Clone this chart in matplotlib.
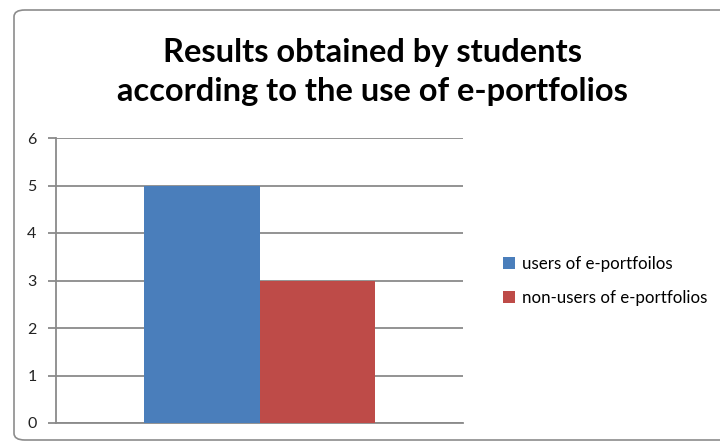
import matplotlib.pyplot as plt
from matplotlib.patches import FancyBboxPatch

# Chart data
categories = ["users of e-portfoilos", "non-users of e-portfolios"]
values = [5, 3]
colors = ["#4A7EBB", "#BE4B48"]
y_ticks = [0, 1, 2, 3, 4, 5, 6]

plt.rcParams['font.family'] = ['Lato', 'DejaVu Sans']

fig = plt.figure(figsize=(7.2, 4.46), dpi=100)
fig.patch.set_facecolor("white")

# rounded chart frame
frame = FancyBboxPatch((14 / 720, 6 / 446), 720 / 720, 430 / 446,
                       boxstyle="round,pad=0,rounding_size=0.015",
                       transform=fig.transFigure, facecolor="white",
                       edgecolor="#8c8c8c", linewidth=1.2, zorder=-5)
fig.patches.append(frame)

ax = fig.add_axes([56 / 720, (446 - 423) / 446, (463 - 56) / 720, (423 - 138) / 446])
ax.set_zorder(2)
ax.set_facecolor("none")

width = 0.285
offsets = [-width / 2, width / 2]
for cat, val, col, off in zip(categories, values, colors, offsets):
    ax.bar(off, val, width=width, color=col, label=cat, zorder=3)

ax.set_xlim(-0.5, 0.5)
ax.set_ylim(0, 6)
ax.set_yticks(y_ticks)
ax.set_xticks([])
ax.set_axisbelow(True)
ax.yaxis.grid(True, color="#8a8a8a", linewidth=1.3)
for side in ["top", "right"]:
    ax.spines[side].set_visible(False)
ax.spines["left"].set_color("#8a8a8a")
ax.spines["left"].set_linewidth(1.3)
ax.spines["bottom"].set_color("#8a8a8a")
ax.spines["bottom"].set_linewidth(1.3)
ax.tick_params(axis="y", length=6, width=1.3, color="#8a8a8a", labelsize=11.5,
               labelcolor="#222222", pad=8)

fig.text(372 / 720, 1 - 72 / 446,
         "Results obtained by students\naccording to the use of e-portfolios",
         ha="center", va="center", fontsize=23.5, fontweight="bold",
         linespacing=1.45)

fig.legend(loc="center left", bbox_to_anchor=(488 / 720, 1 - 281 / 446),
           frameon=False, fontsize=12.2, handlelength=0.7, handleheight=0.7,
           handletextpad=0.4, labelspacing=1.05)

plt.savefig("out.png", dpi=100)
